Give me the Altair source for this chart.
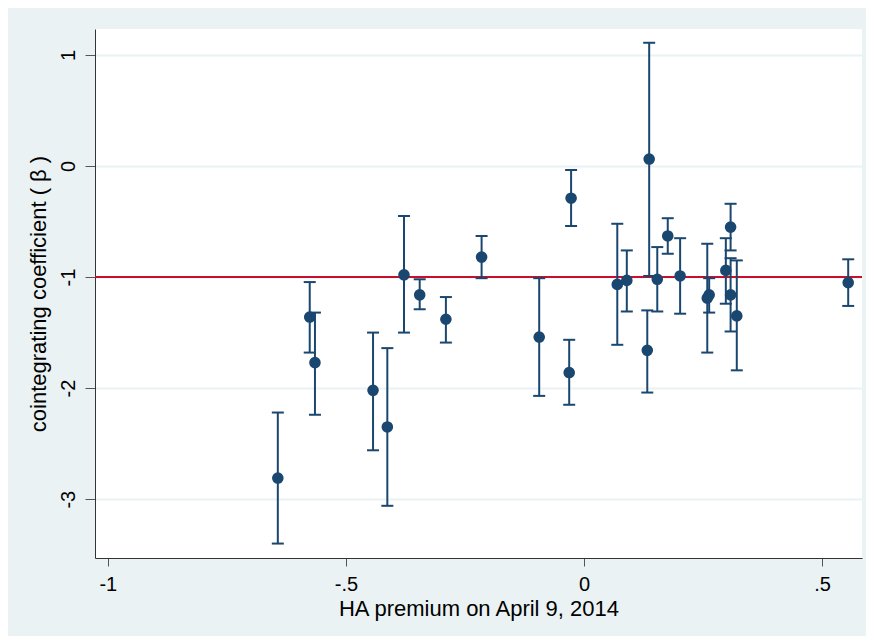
import altair as alt
import pandas as pd

# HA premium on April 9, 2014
premium = [-0.643, -0.576, -0.565, -0.443, -0.413, -0.378, -0.345, -0.290, -0.215,
           -0.094, -0.031, -0.027, 0.070, 0.090, 0.133, 0.137, 0.154, 0.176, 0.202,
           0.259, 0.263, 0.298, 0.308, 0.308, 0.321, 0.555]
# cointegrating coefficient (beta)
beta = [-2.81, -1.36, -1.77, -2.02, -2.35, -0.98, -1.16, -1.38, -0.82,
        -1.54, -1.86, -0.29, -1.066, -1.03, -1.66, 0.063, -1.02, -0.63, -0.99,
        -1.19, -1.16, -0.94, -0.55, -1.16, -1.35, -1.05]
lower = [-3.40, -1.68, -2.24, -2.56, -3.06, -1.50, -1.29, -1.59, -1.01,
         -2.07, -2.15, -0.54, -1.61, -1.31, -2.04, -0.99, -1.31, -0.79, -1.33,
         -1.68, -1.32, -1.24, -0.76, -1.49, -1.84, -1.26]
upper = [-2.22, -1.045, -1.32, -1.50, -1.64, -0.45, -1.02, -1.18, -0.63,
         -1.01, -1.565, -0.036, -0.52, -0.76, -1.30, 1.11, -0.73, -0.47, -0.65,
         -0.70, -1.01, -0.65, -0.34, -0.83, -0.85, -0.84]

x_ticks = [-1, -0.5, 0, 0.5]
y_ticks = [-3, -2, -1, 0, 1]
ref_value = [-1]

df = pd.DataFrame({"x": premium, "b": beta, "lo": lower, "hi": upper})
ref = pd.DataFrame({"r": ref_value})

NAVY = "#1a476f"
BG = "#eaf2f3"
FONT = "Liberation Sans"

xs = alt.Scale(domain=[-1.027, 0.584], nice=False, zero=False)
ys = alt.Scale(domain=[-3.53, 1.234], nice=False, zero=False)

x_axis = alt.Axis(values=x_ticks, title="HA premium on April 9, 2014",
                  labelExpr="replace(toString(datum.value), '0.', '.')",
                  grid=False, tickSize=8, labelPadding=8, titlePadding=4)
y_axis = alt.Axis(values=y_ticks, title="cointegrating coefficient ( β )",
                  labelExpr="toString(datum.value)",
                  labelAngle=-90, labelAlign="center", labelBaseline="bottom",
                  grid=True, gridColor=BG, gridWidth=2, tickSize=10,
                  labelPadding=7, titlePadding=8)

base = alt.Chart(df)

redline = alt.Chart(ref).mark_rule(color="#c8102e", strokeWidth=2).encode(
    y=alt.Y("r:Q", scale=ys, axis=y_axis)
)

bars = base.mark_rule(color=NAVY, strokeWidth=2).encode(
    x=alt.X("x:Q", scale=xs, axis=x_axis),
    y=alt.Y("lo:Q", scale=ys, axis=y_axis),
    y2="hi:Q",
)

cap_lo = base.mark_point(shape="M-1,0L1,0", filled=False, color=NAVY,
                         strokeWidth=2, size=144, opacity=1).encode(
    x=alt.X("x:Q", scale=xs), y=alt.Y("lo:Q", scale=ys)
)
cap_hi = base.mark_point(shape="M-1,0L1,0", filled=False, color=NAVY,
                         strokeWidth=2, size=144, opacity=1).encode(
    x=alt.X("x:Q", scale=xs), y=alt.Y("hi:Q", scale=ys)
)

points = base.mark_circle(color=NAVY, size=135, opacity=1).encode(
    x=alt.X("x:Q", scale=xs), y=alt.Y("b:Q", scale=ys)
)

chart = alt.layer(redline, bars, cap_lo, cap_hi, points).properties(
    width=767, height=529,
    background=BG,
    autosize=alt.AutoSizeParams(type="none"),
    padding={"left": 87, "top": 21, "right": 4, "bottom": 78},
).configure_view(
    fill="white", stroke=None
).configure_axis(
    labelFont=FONT, titleFont=FONT, labelFontSize=20, titleFontSize=22,
    labelColor="#000000", titleColor="#000000", titleFontWeight="normal",
    domainColor="#333333", domainWidth=1, tickColor="#555555", tickWidth=1,
)

chart.save("out.html", embed_options={"renderer": "svg", "actions": False})
